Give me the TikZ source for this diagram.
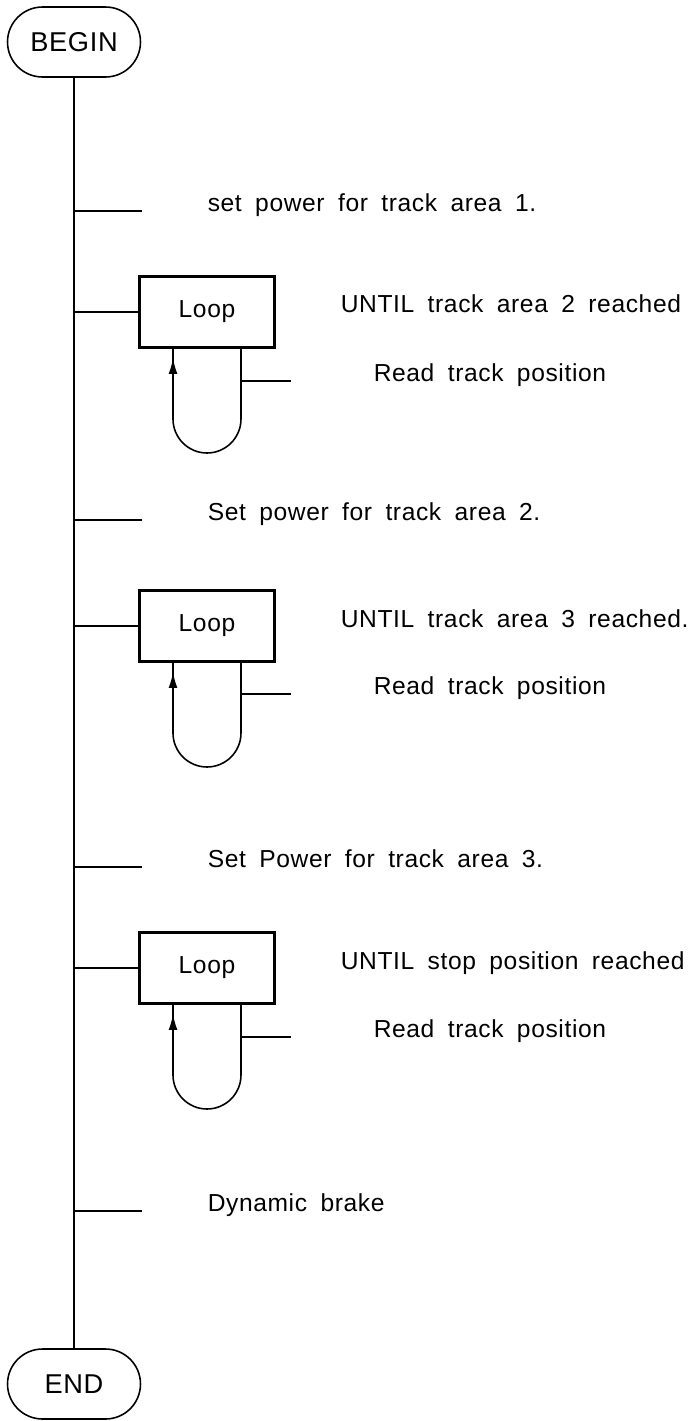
\documentclass[tikz,border=0pt]{standalone}
\usepackage{fontspec}
\newfontfamily\cadfont{Liberation Sans}[LetterSpace=2.5, WordSpace=1.8]
\usepackage{tikz}
\usetikzlibrary{arrows.meta}

\begin{document}
\begin{tikzpicture}[x=0.02cm, y=0.02cm, line width=0.9pt,
    every node/.style={font=\cadfont\fontsize{14}{17}\selectfont},
    term/.style={draw, rounded corners=0.7cm, minimum width=2.66cm, minimum height=1.4cm,
        font=\cadfont\fontsize{15.5}{18}\selectfont},
    loopbox/.style={draw, line width=1.7pt, minimum width=2.72cm, minimum height=1.42cm},
    txt/.style={anchor=base west, inner sep=0pt},
    back/.style={-{Latex[length=9pt, width=5pt]}}]
    \useasboundingbox (0, 0) rectangle (691, -1421);

    \node[term] (b) at (74, -42) {BEGIN};
    \node[term] (e) at (74, -1384) {END};
    \draw (b) -- (e);

    % step 1
    \coordinate (s1) at (142, -211);
    \draw (s1 -| b) -- (s1);
    \node[txt] (t1) at (207, -211) {set power for track area 1.};

    % loop 1
    \node[loopbox] (l1) at (207, -312) {Loop};
    \draw (l1.west -| b) -- (l1.west);
    \node[txt] (u1) at (340, -312) {UNTIL track area 2 reached};
    \coordinate (l1r) at ([xshift=0.68cm] l1.south);
    \coordinate (l1l) at ([xshift=-0.68cm] l1.south);
    \draw (l1r) -- ++(0, -70) arc[start angle=0, end angle=-180, radius=34] -- (l1l);
    \draw[back] ([yshift=-0.6cm] l1l) -- ([yshift=-0.18cm] l1l);
    \coordinate (r1) at (291, -381);
    \draw (l1r |- r1) -- (r1);
    \node[txt] (p1) at (373, -381) {Read track position};

    % step 2
    \coordinate (s2) at (142, -520);
    \draw (s2 -| b) -- (s2);
    \node[txt] (t2) at (207, -520) {Set power for track area 2.};

    % loop 2
    \node[loopbox] (l2) at (207, -626) {Loop};
    \draw (l2.west -| b) -- (l2.west);
    \node[txt] (u2) at (340, -627) {UNTIL track area 3 reached.};
    \coordinate (l2r) at ([xshift=0.68cm] l2.south);
    \coordinate (l2l) at ([xshift=-0.68cm] l2.south);
    \draw (l2r) -- ++(0, -70) arc[start angle=0, end angle=-180, radius=34] -- (l2l);
    \draw[back] ([yshift=-0.6cm] l2l) -- ([yshift=-0.18cm] l2l);
    \coordinate (r2) at (291, -694);
    \draw (l2r |- r2) -- (r2);
    \node[txt] (p2) at (373, -694) {Read track position};

    % step 3
    \coordinate (s3) at (142, -867);
    \draw (s3 -| b) -- (s3);
    \node[txt] (t3) at (207, -867) {Set Power for track area 3.};

    % loop 3
    \node[loopbox] (l3) at (207, -968) {Loop};
    \draw (l3.west -| b) -- (l3.west);
    \node[txt] (u3) at (340, -969) {UNTIL stop position reached};
    \coordinate (l3r) at ([xshift=0.68cm] l3.south);
    \coordinate (l3l) at ([xshift=-0.68cm] l3.south);
    \draw (l3r) -- ++(0, -70) arc[start angle=0, end angle=-180, radius=34] -- (l3l);
    \draw[back] ([yshift=-0.6cm] l3l) -- ([yshift=-0.18cm] l3l);
    \coordinate (r3) at (291, -1037);
    \draw (l3r |- r3) -- (r3);
    \node[txt] (p3) at (373, -1037) {Read track position};

    % step 4
    \coordinate (s4) at (142, -1211);
    \draw (s4 -| b) -- (s4);
    \node[txt] (t4) at (207, -1211) {Dynamic brake};
\end{tikzpicture}
\end{document}
